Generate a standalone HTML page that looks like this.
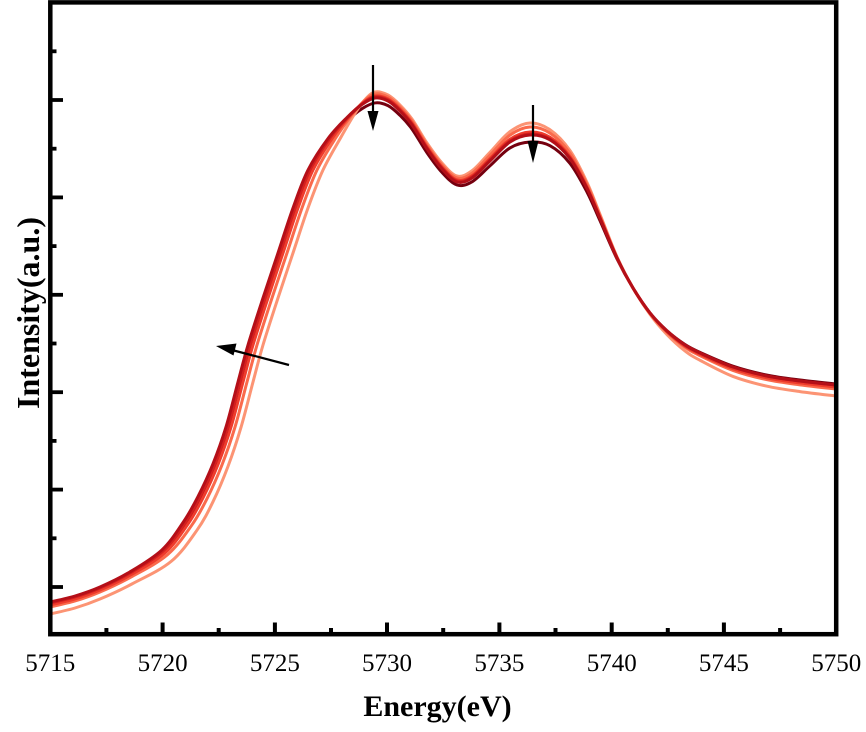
<!DOCTYPE html>
<html>
<head>
<meta charset="utf-8">
<style>
  html,body{margin:0;padding:0;background:#fff;}
  svg{display:block;}
  .tl{font-family:"Liberation Serif","Times New Roman","Noto Serif CJK SC",serif;font-size:25px;font-weight:normal;}
</style>
</head>
<body>
<svg id="chart" width="866" height="732" viewBox="0 0 866 732" xmlns="http://www.w3.org/2000/svg">
  <rect x="0" y="0" width="866" height="732" fill="#fff"/>
  <g id="curves" fill="none" stroke-width="3" stroke-linejoin="round" stroke-linecap="round"></g>

  <!-- arrows -->
  <g stroke="#000" stroke-width="2.2" fill="#000">
    <line x1="373" y1="65" x2="373" y2="116"/>
    <polygon points="367.5,111 378.5,111 373,131" stroke="none"/>
    <line x1="533" y1="105" x2="533" y2="146"/>
    <polygon points="527.5,141 538.5,141 533,163" stroke="none"/>
    <line x1="289" y1="365" x2="232" y2="350"/>
    <polygon points="216,346 236.5,343.5 233.5,355.5" stroke="none"/>
  </g>

  <!-- frame -->
  <rect x="50.3" y="2.4" width="785.9" height="631.8" fill="none" stroke="#000" stroke-width="4.5"/>

  <!-- x ticks -->
  <g stroke="#000" stroke-width="4">
    <line x1="162.6" y1="634" x2="162.6" y2="622.5"/>
    <line x1="274.9" y1="634" x2="274.9" y2="622.5"/>
    <line x1="387.0" y1="634" x2="387.0" y2="622.5"/>
    <line x1="499.4" y1="634" x2="499.4" y2="622.5"/>
    <line x1="611.7" y1="634" x2="611.7" y2="622.5"/>
    <line x1="723.9" y1="634" x2="723.9" y2="622.5"/>
    <line x1="106.4" y1="634" x2="106.4" y2="628"/>
    <line x1="218.7" y1="634" x2="218.7" y2="628"/>
    <line x1="331.0" y1="634" x2="331.0" y2="628"/>
    <line x1="443.2" y1="634" x2="443.2" y2="628"/>
    <line x1="555.5" y1="634" x2="555.5" y2="628"/>
    <line x1="667.8" y1="634" x2="667.8" y2="628"/>
    <line x1="780.1" y1="634" x2="780.1" y2="628"/>
  </g>
  <!-- y ticks -->
  <g stroke="#000" stroke-width="3.8">
    <line x1="50" y1="100" x2="63" y2="100"/>
    <line x1="50" y1="197.4" x2="63" y2="197.4"/>
    <line x1="50" y1="294.8" x2="63" y2="294.8"/>
    <line x1="50" y1="392.2" x2="63" y2="392.2"/>
    <line x1="50" y1="489.6" x2="63" y2="489.6"/>
    <line x1="50" y1="587" x2="63" y2="587"/>
    <line x1="50" y1="51.3" x2="56.5" y2="51.3"/>
    <line x1="50" y1="148.7" x2="56.5" y2="148.7"/>
    <line x1="50" y1="246.1" x2="56.5" y2="246.1"/>
    <line x1="50" y1="343.5" x2="56.5" y2="343.5"/>
    <line x1="50" y1="440.9" x2="56.5" y2="440.9"/>
    <line x1="50" y1="538.3" x2="56.5" y2="538.3"/>
  </g>

  <!-- tick labels -->
  <g text-anchor="middle" fill="#000">
    <text class="tl" x="50.3" y="671">5715</text>
    <text class="tl" x="162.6" y="671">5720</text>
    <text class="tl" x="274.9" y="671">5725</text>
    <text class="tl" x="387.0" y="671">5730</text>
    <text class="tl" x="499.4" y="671">5735</text>
    <text class="tl" x="611.7" y="671">5740</text>
    <text class="tl" x="723.9" y="671">5745</text>
    <text class="tl" x="836.2" y="671">5750</text>
  </g>

  <text x="437.5" y="716" style="font-family:'Liberation Serif','Times New Roman',serif;font-weight:bold;font-size:30px" text-anchor="middle" fill="#000">Energy(eV)</text>
  <text style="font-family:'Liberation Serif','Times New Roman',serif;font-weight:bold;font-size:32px" text-anchor="middle" fill="#000" transform="translate(39,313) rotate(-90)">Intensity(a.u.)</text>

  <!-- static fallback curve (replaced by script) -->
  <path id="fallback" fill="none" stroke="#cb181d" stroke-width="3" d="M50,603 C75,597 100,588 130,573 C163,551 185,523 200,497 C215,464 228,427 240,382 C250,345 265,298 280,253 C295,208 310,170 330,138 C348,117 362,104 375,97 C388,100 400,110 412,124 C427,148 442,168 457,181 C472,177 490,160 510,141 C530,134 550,139 570,158 C587,188 600,218 617,258 C633,288 650,313 667,331 C685,345 700,353 733,367 C767,376 800,381 836,385"/>
</svg>
<script>
(function(){
  var base=[[50,603],[75,597],[100,588],[130,573],[163,551],[185,523],[200,497],[215,464],[228,427],[240,382],[250,345],[265,298],[280,253],[295,208],[310,170],[330,138],[348,117],[362,104],[375,97],[388,100],[400,110],[412,124],[427,148],[442,168],[457,181],[472,177],[490,160],[510,141],[530,134],[550,139],[570,158],[587,188],[600,218],[617,258],[633,288],[650,313],[667,331],[685,345],[700,353],[733,367],[767,376],[800,381],[836,385]];
  // color, dxEdge, dyStart, p1, valley, p2, tail  (draw order)
  var curves=[
    ["#75000f",1,0,6,4,8,-1],
    ["#fc9474",13,11,-5,-5,-11,11],
    ["#fa6a4c",7,4,-3,-3,-7,4],
    ["#ee3b2c",3,2,-1,-1,-2,2],
    ["#d4201f",0,0,0,0,0,0],
    ["#b40f18",-2,-1,1,1,1,0]
  ];
  function interp(knots,x){
    if(x<=knots[0][0])return knots[0][1];
    for(var i=1;i<knots.length;i++){
      if(x<=knots[i][0]){
        var a=knots[i-1],b=knots[i];
        return a[1]+(b[1]-a[1])*(x-a[0])/(b[0]-a[0]);
      }
    }
    return knots[knots.length-1][1];
  }
  function pathOf(pts){
    var d="M"+pts[0][0].toFixed(2)+","+pts[0][1].toFixed(2);
    for(var i=0;i<pts.length-1;i++){
      var p0=pts[i-1]||pts[i],p1=pts[i],p2=pts[i+1],p3=pts[i+2]||p2;
      var c1x=p1[0]+(p2[0]-p0[0])/6,c1y=p1[1]+(p2[1]-p0[1])/6;
      var c2x=p2[0]-(p3[0]-p1[0])/6,c2y=p2[1]-(p3[1]-p1[1])/6;
      d+=" C"+c1x.toFixed(2)+","+c1y.toFixed(2)+" "+c2x.toFixed(2)+","+c2y.toFixed(2)+" "+p2[0].toFixed(2)+","+p2[1].toFixed(2);
    }
    return d;
  }
  var g=document.getElementById("curves");
  var ns="http://www.w3.org/2000/svg";
  curves.forEach(function(c){
    var dx=c[1],dyS=c[2],p1=c[3],v=c[4],p2=c[5],t=c[6];
    var wEdgeK=[[120,0],[190,1],[320,1],[372,0]];
    var wStartK=[[160,1],[230,0]];
    var midK=[[330,0],[372,p1],[457,v],[530,p2],[580,p2*0.6],[625,0]];
    var tailK=[[640,0],[690,t*0.6],[740,t*0.9],[836,t]];
    var pts=base.map(function(p){
      var x=p[0],y=p[1];
      var nx=x+dx*interp(wEdgeK,x);
      var ny=y+dyS*interp(wStartK,x)+interp(midK,x)+interp(tailK,x);
      if(x===50)nx=50;
      if(x===836)nx=836;
      return [nx,ny];
    });
    var path=document.createElementNS(ns,"path");
    path.setAttribute("d",pathOf(pts));
    path.setAttribute("stroke",c[0]);
    g.appendChild(path);
  });
  var fb=document.getElementById("fallback");
  if(fb)fb.parentNode.removeChild(fb);
})();
</script>
</body>
</html>
